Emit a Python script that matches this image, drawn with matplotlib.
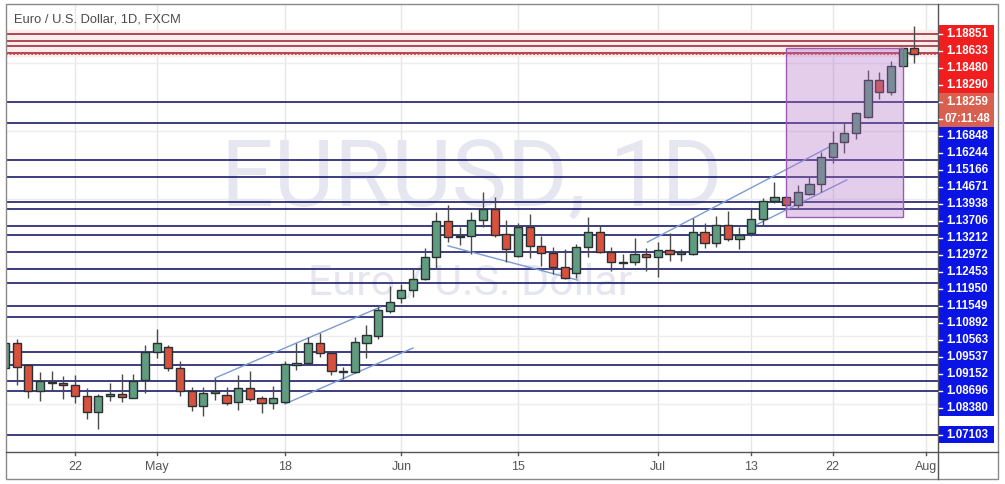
import matplotlib
matplotlib.use("Agg")
import matplotlib.pyplot as plt
from matplotlib.patches import Rectangle
import numpy as np

# daily EUR/USD candles, 14 Apr .. 31 Jul 2020 (weekdays)
opens = [1.0906, 1.0980, 1.0915, 1.0839, 1.0865, 1.0862, 1.0857, 1.0824, 1.0777, 1.0824,
         1.0830, 1.0818, 1.0871, 1.0953, 1.0968, 1.0906, 1.0839, 1.0795, 1.0833, 1.0827,
         1.0807, 1.0848, 1.0818, 1.0804, 1.0807, 1.0915, 1.0921, 1.0980, 1.0950, 1.0895,
         1.0895, 1.0980, 1.1000, 1.1073, 1.1111, 1.1135, 1.1167, 1.1231, 1.1337, 1.1293,
         1.1293, 1.1340, 1.1372, 1.1299, 1.1234, 1.1319, 1.1264, 1.1243, 1.1202, 1.1185,
         1.1261, 1.1305, 1.1246, 1.1217, 1.1217, 1.1240, 1.1231, 1.1252, 1.1240, 1.1240,
         1.1305, 1.1272, 1.1325, 1.1284, 1.1302, 1.1343, 1.1395, 1.1407, 1.1384, 1.1416,
         1.1445, 1.1524, 1.1568, 1.1595, 1.1641, 1.1750, 1.1715, 1.1791, 1.1843]
closes = [1.0980, 1.0909, 1.0839, 1.0868, 1.0862, 1.0857, 1.0824, 1.0777, 1.0824, 1.0830,
          1.0821, 1.0868, 1.0953, 1.0980, 1.0906, 1.0839, 1.0795, 1.0833, 1.0839, 1.0804,
          1.0848, 1.0816, 1.0804, 1.0818, 1.0918, 1.0921, 1.0980, 1.0950, 1.0898, 1.0898,
          1.0983, 1.1003, 1.1076, 1.1100, 1.1135, 1.1167, 1.1231, 1.1337, 1.1290, 1.1290,
          1.1340, 1.1372, 1.1296, 1.1255, 1.1319, 1.1264, 1.1243, 1.1202, 1.1170, 1.1261,
          1.1305, 1.1246, 1.1217, 1.1214, 1.1240, 1.1231, 1.1252, 1.1240, 1.1246, 1.1305,
          1.1272, 1.1325, 1.1284, 1.1296, 1.1343, 1.1395, 1.1407, 1.1384, 1.1422, 1.1445,
          1.1524, 1.1565, 1.1595, 1.1653, 1.1750, 1.1715, 1.1791, 1.1843, 1.1826]
highs = [1.0988, 1.0991, 1.0918, 1.0895, 1.0898, 1.0883, 1.0886, 1.0848, 1.0830, 1.0862,
         1.0889, 1.0889, 1.0974, 1.1021, 1.0974, 1.0927, 1.0851, 1.0851, 1.0877, 1.0851,
         1.0886, 1.0898, 1.0824, 1.0854, 1.0927, 1.0980, 1.0997, 1.1009, 1.0953, 1.0909,
         1.0997, 1.1032, 1.1085, 1.1147, 1.1152, 1.1196, 1.1258, 1.1363, 1.1384, 1.1319,
         1.1363, 1.1422, 1.1407, 1.1340, 1.1331, 1.1357, 1.1293, 1.1261, 1.1255, 1.1269,
         1.1349, 1.1325, 1.1261, 1.1240, 1.1287, 1.1258, 1.1275, 1.1302, 1.1255, 1.1346,
         1.1331, 1.1351, 1.1366, 1.1319, 1.1375, 1.1404, 1.1451, 1.1410, 1.1442, 1.1466,
         1.1539, 1.1600, 1.1627, 1.1656, 1.1779, 1.1773, 1.1805, 1.1843, 1.1908]
lows = [1.0898, 1.0857, 1.0818, 1.0810, 1.0839, 1.0816, 1.0804, 1.0757, 1.0728, 1.0810,
        1.0807, 1.0818, 1.0833, 1.0936, 1.0898, 1.0824, 1.0780, 1.0766, 1.0813, 1.0798,
        1.0783, 1.0810, 1.0775, 1.0786, 1.0804, 1.0901, 1.0915, 1.0939, 1.0886, 1.0874,
        1.0892, 1.0936, 1.0991, 1.1068, 1.1097, 1.1114, 1.1164, 1.1196, 1.1275, 1.1267,
        1.1240, 1.1319, 1.1290, 1.1217, 1.1231, 1.1229, 1.1205, 1.1182, 1.1167, 1.1170,
        1.1231, 1.1243, 1.1190, 1.1196, 1.1208, 1.1190, 1.1173, 1.1220, 1.1220, 1.1237,
        1.1258, 1.1261, 1.1278, 1.1255, 1.1293, 1.1325, 1.1390, 1.1378, 1.1372, 1.1413,
        1.1422, 1.1507, 1.1536, 1.1577, 1.1638, 1.1694, 1.1706, 1.1788, 1.1800]

# x axis ticks (index of trading day)
tick_idx = [6, 13, 24, 34, 44, 56, 64, 71, 79]
tick_lbl = ['22', 'May', '18', 'Jun', '15', 'Jul', '13', '22', 'Aug']

# horizontal levels
red_levels = [1.18851, 1.18633, 1.18480, 1.18290]
last_price = 1.18259
countdown = '07:11:48'
blue_levels = [1.16848, 1.16244, 1.15166, 1.14671, 1.13938, 1.13706, 1.13212, 1.12972,
               1.12453, 1.11950, 1.11549, 1.10892, 1.10563, 1.09537, 1.09152, 1.08696,
               1.08380, 1.07103]

# drawn trend lines: (x0, p0, x1, p1)
trend_lines = [(18.0, 1.0877, 32.2, 1.1085),
               (24.0, 1.0801, 35.0, 1.0965),
               (38.0, 1.1264, 49.1, 1.1164),
               (55.1, 1.1275, 71.0, 1.1559),
               (64.4, 1.1325, 72.2, 1.1457)]
# highlighted box: first day, last day, top, bottom
box = (67, 77, 1.18434, 1.13486)

W, H = 1005, 484
fig = plt.figure(figsize=(W / 100, H / 100), dpi=100)
ax = fig.add_axes([6 / W, 32 / H, 932 / W, 447 / H])
ax.set_xlim(0.08, 80.03)
ax.set_ylim(1.06604, 1.19694)
ax.axis('off')

# grid
for t in tick_idx:
    ax.axvline(t, color='#e6e6e6', lw=1, zorder=0)
for g in np.arange(1.08, 1.19, 0.02):
    ax.axhline(g, color='#ededed', lw=1, zorder=0)

# watermark
ax.text(0.5, 0.605, 'EURUSD, 1D', transform=ax.transAxes, ha='center', va='center',
        fontsize=67, family='Roboto', color='#e5e6f0', zorder=0.5)
ax.text(0.498, 0.378, 'Euro / U.S. Dollar', transform=ax.transAxes, ha='center', va='center',
        fontsize=31, family='Roboto', color='#e5e6f0', zorder=0.5)

# levels
for lv in blue_levels:
    ax.axhline(lv, color='#1b1b6b', lw=1.2, zorder=2)
for lv in red_levels:
    ax.axhline(lv, color='#fcecec', lw=6, zorder=1.5)
for lv in red_levels:
    ax.axhline(lv, color='#9c2e3c', lw=1.2, zorder=2)
ax.axhline(last_price, color='#d83a3a', lw=1.3, ls=(0, (1, 1)), zorder=2)

# trend lines
for x0, p0, x1, p1 in trend_lines:
    ax.plot([x0, x1], [p0, p1], color='#7c9bd6', lw=1, zorder=3)

# candles
x = np.arange(len(opens))
o = np.array(opens)
c = np.array(closes)
up = c >= o
body_col = np.where(up, '#5f9c80', '#d8503e')
ax.vlines(x, lows, highs, color='#4a4a4a', lw=1, zorder=4)
bottoms = np.minimum(o, c)
heights = np.maximum(np.abs(c - o), 0.00025)
ax.bar(x, heights, bottom=bottoms, width=0.7, color=body_col, edgecolor='#2a2f33',
       linewidth=1, zorder=5)

# purple box
ax.add_patch(Rectangle((box[0], box[3]), box[1] - box[0], box[2] - box[3],
                       facecolor='#b070c8', alpha=0.35, edgecolor='none', zorder=6))
ax.add_patch(Rectangle((box[0], box[3]), box[1] - box[0], box[2] - box[3],
                       facecolor='none', edgecolor='#9b5cb0', lw=1, zorder=6))

# overlay axes in pixel coordinates for frame and price labels
lab = fig.add_axes([0, 0, 1, 1], facecolor='none')
lab.set_xlim(0, W)
lab.set_ylim(H, 0)
lab.axis('off')


def ypix(p):
    return H - ax.transData.transform((0, p))[1]


lab.add_patch(Rectangle((6, 4), 992, 475, facecolor='none', edgecolor='#8a8a8a', lw=1))
lab.plot([6, 998], [452, 452], color='#555555', lw=1)
lab.plot([938, 938], [4, 479], color='#555555', lw=1)

lab.text(14, 20, 'Euro / U.S. Dollar, 1D, FXCM', fontsize=9.3, family='Liberation Sans',
         color='#4a4a4a', va='center', ha='left')

for t, s in zip(tick_idx, tick_lbl):
    xp = ax.transData.transform((t, 0))[0]
    lab.plot([xp, xp], [452, 455], color='#555555', lw=1)
    lab.text(xp, 467, s, fontsize=9, family='Liberation Sans', color='#555555',
             ha='center', va='center')

# stacked price labels
labels = [(lv, '%.5f' % lv, '#f01e1e') for lv in red_levels]
labels.append((last_price, '%.5f' % last_price, '#d9604f'))
labels.append((last_price, countdown, '#d9604f'))
labels += [(lv, '%.5f' % lv, '#0a14e4') for lv in blue_levels]
prev = -100
for lv, txt, col in labels:
    yp = max(ypix(lv), prev + 17)
    prev = yp
    lab.add_patch(Rectangle((939, yp - 8.5), 55, 17, facecolor=col, edgecolor='none'))
    lab.plot([939, 942], [yp, yp], color='white', lw=1)
    lab.text(967, yp, txt, fontsize=8.3, family='Liberation Sans', weight='bold',
             color='white', ha='center', va='center')

fig.savefig('out.png', dpi=100)
